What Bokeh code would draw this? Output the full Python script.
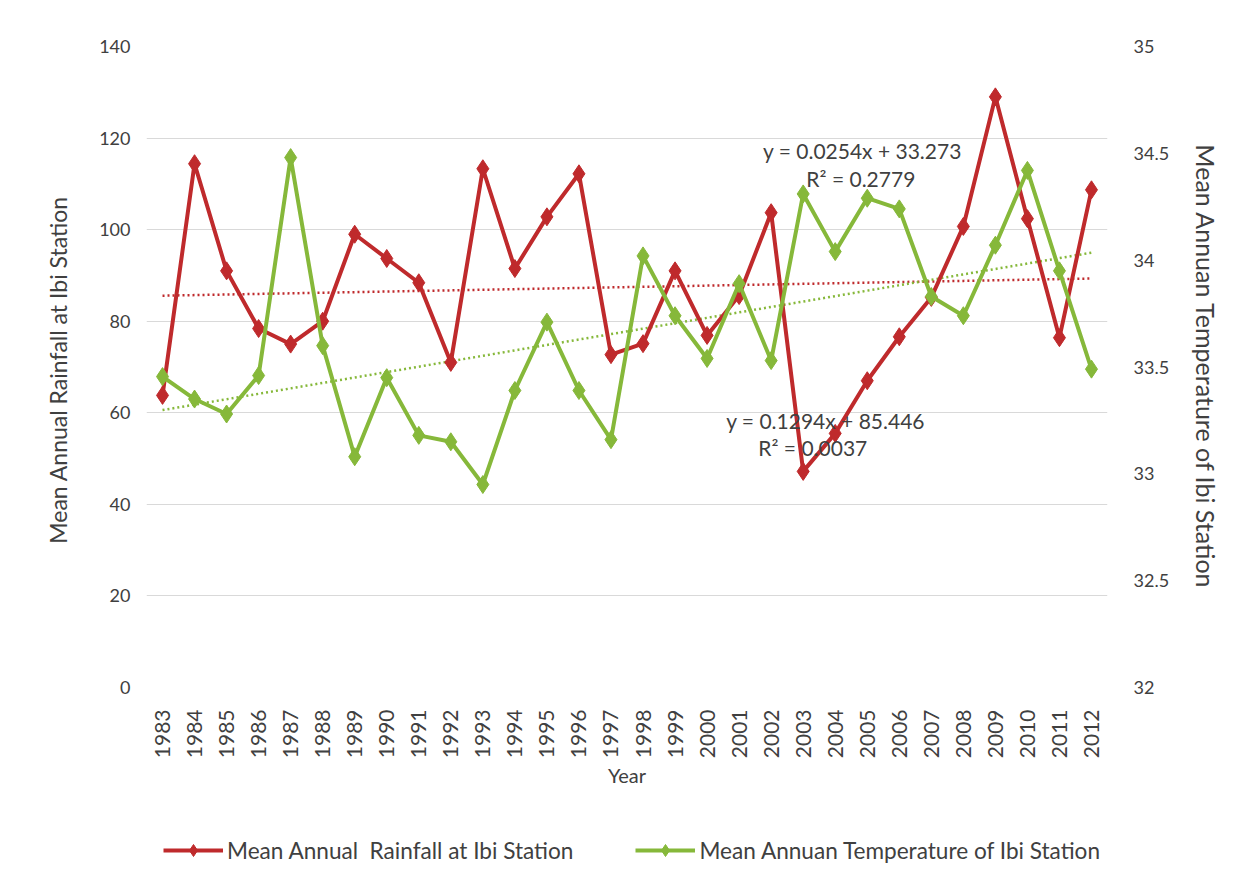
import math
from bokeh.plotting import figure
from bokeh.layouts import column
from bokeh.models import (Range1d, LinearAxis, FixedTicker, Legend, LegendItem,
                          Label, CustomJSTickFormatter)
from bokeh.embed import file_html
from bokeh.resources import INLINE

years = list(range(1983, 2013))
rainfall = [63.8, 114.4, 91.0, 78.4, 75.0, 80.0, 99.0, 93.7, 88.4, 71.0,
            113.3, 91.5, 102.8, 112.2, 72.7, 75.1, 91.0, 76.9, 85.6, 103.7,
            47.2, 55.5, 67.0, 76.6, 85.2, 100.7, 129.0, 102.4, 76.4, 108.7]
temperature = [33.455, 33.35, 33.28, 33.46, 34.48, 33.60, 33.08, 33.45, 33.18, 33.15,
               32.95, 33.39, 33.71, 33.39, 33.16, 34.02, 33.74, 33.54, 33.89, 33.53,
               34.31, 34.04, 34.29, 34.24, 33.83, 33.74, 34.07, 34.42, 33.95, 33.49]
rain_slope, rain_intercept = 0.1294, 85.446
temp_slope, temp_intercept = 0.0254, 33.273
rain_eq = "y = 0.1294x + 85.446"
rain_r2 = "R² = 0.0037"
temp_eq = "y = 0.0254x + 33.273"
temp_r2 = "R² = 0.2779"
left_ticks = [0, 20, 40, 60, 80, 100, 120, 140]
right_ticks = [32, 32.5, 33, 33.5, 34, 34.5, 35]
rain_name = "Mean Annual  Rainfall at Ibi Station"
temp_name = "Mean Annuan Temperature of Ibi Station"

RED = "#BF2A2C"
GREEN = "#86B83A"
TXT = "#404040"
FONT = "Lato"

idx = list(range(1, len(years) + 1))
rain_trend = [rain_slope * i + rain_intercept for i in idx]
temp_trend = [temp_slope * i + temp_intercept for i in idx]

p = figure(width=1224, height=800, output_backend="svg", toolbar_location=None,
           x_range=Range1d(1982.5, 2012.5), y_range=Range1d(0, 140),
           min_border_left=146, min_border_right=111, min_border_top=46,
           min_border_bottom=113)
p.extra_y_ranges = {"temp": Range1d(32, 35)}
p.outline_line_color = None
p.background_fill_color = "white"
p.border_fill_color = "white"

# grid
p.xgrid.visible = False
p.ygrid.ticker = FixedTicker(ticks=left_ticks)
p.ygrid.grid_line_color = "#d9d9d9"
p.ygrid.grid_line_width = 1

# x axis
xa = p.xaxis[0]
xa.ticker = FixedTicker(ticks=years)
xa.formatter = CustomJSTickFormatter(code="return tick.toFixed(0);")
xa.major_label_orientation = math.pi / 2
xa.axis_label = "Year"

# left axis
ya = p.yaxis[0]
ya.ticker = FixedTicker(ticks=left_ticks)
ya.axis_label = rain_name

# right axis
ra = LinearAxis(y_range_name="temp", ticker=FixedTicker(ticks=right_ticks),
                formatter=CustomJSTickFormatter(code="return tick.toString();"),
                axis_label=temp_name)
p.add_layout(ra, "right")

for ax in [xa, ya, ra]:
    ax.axis_line_color = None
    ax.major_tick_line_color = None
    ax.minor_tick_line_color = None
    ax.major_label_text_font = FONT
    ax.major_label_text_font_size = "18px"
    ax.major_label_text_color = TXT
    ax.axis_label_text_font = FONT
    ax.axis_label_text_font_style = "normal"
    ax.axis_label_text_color = TXT

xa.major_label_text_font_size = "21px"
xa.axis_label_text_font_size = "20px"
ya.axis_label_text_font_size = "23px"
ra.axis_label_text_font_size = "25px"
xa.major_label_standoff = 16
xa.axis_label_standoff = 2
ya.major_label_standoff = 10
ya.axis_label_standoff = 24
ra.major_label_standoff = 20
ra.axis_label_standoff = 19

# trend lines
p.line(years, rain_trend, line_color=RED, line_width=2.5, line_dash="2 3")
p.line(years, temp_trend, line_color=GREEN, line_width=2.5, line_dash="2 3",
       y_range_name="temp")

# series
p.line(years, rainfall, line_color=RED, line_width=4)
p.scatter(years, rainfall, marker="diamond", size=18, fill_color=RED, line_color=RED)
p.line(years, temperature, line_color=GREEN, line_width=4, y_range_name="temp")
p.scatter(years, temperature, marker="diamond", size=18, fill_color=GREEN,
          line_color=GREEN, y_range_name="temp")

# equations
for txt, xx, yy in [(temp_eq, 2004.85, 34.513), (temp_r2, 2004.8, 34.38)]:
    p.add_layout(Label(x=xx, y=yy, y_range_name="temp", text=txt, text_font=FONT,
                       text_font_size="21px", text_color=TXT, text_align="center",
                       text_baseline="middle"))
for txt, xx, yy in [(rain_eq, 2003.7, 58.3), (rain_r2, 2003.3, 52.4)]:
    p.add_layout(Label(x=xx, y=yy, text=txt, text_font=FONT,
                       text_font_size="21px", text_color=TXT, text_align="center",
                       text_baseline="middle"))

# legend strip (separate figure below the chart; its ranges exclude the data,
# so only the legend is visible)
lg = figure(width=1224, height=69, output_backend="svg", toolbar_location=None,
            x_range=Range1d(0, 1), y_range=Range1d(0, 1), min_border=0)
lg.axis.visible = False
lg.grid.visible = False
lg.outline_line_color = None
l1 = lg.line(years, rainfall, line_color=RED, line_width=4)
s1 = lg.scatter(years, rainfall, marker="diamond", size=18, fill_color=RED, line_color=RED)
l2 = lg.line(years, temperature, line_color=GREEN, line_width=4)
s2 = lg.scatter(years, temperature, marker="diamond", size=18, fill_color=GREEN,
                line_color=GREEN)

legend = Legend(items=[LegendItem(label=rain_name, renderers=[l1, s1]),
                       LegendItem(label=temp_name, renderers=[l2, s2])],
                orientation="horizontal", location=(17, 4),
                glyph_width=60, glyph_height=30, spacing=62, padding=2, margin=0,
                label_text_font=FONT, label_text_font_size="22.6px",
                label_text_color=TXT, border_line_color=None,
                background_fill_alpha=0, label_standoff=4)
lg.add_layout(legend, "center")

layout = column(p, lg, spacing=0)
open("out.html", "w").write(file_html(layout, INLINE))
